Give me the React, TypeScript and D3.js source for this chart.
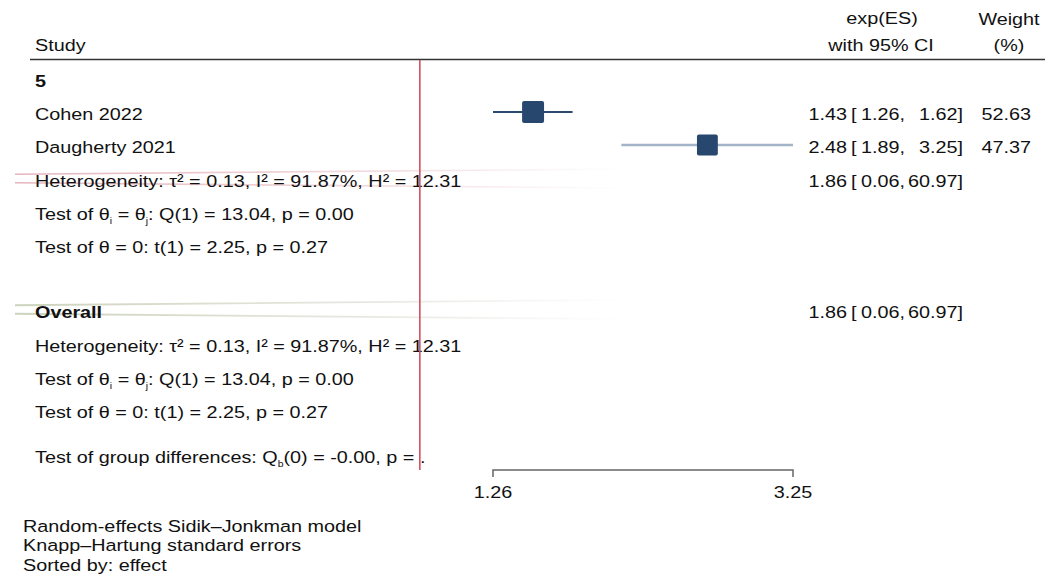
import React from "react";
import * as d3 from "d3";

const studies = ["Cohen 2022", "Daugherty 2021"];
const studyES = [1.43, 2.48];
const studyLo = [1.26, 1.89];
const studyHi = [1.62, 3.25];
const studyWeight = [52.63, 47.37];
const studyCI = [
  ["1.43", "1.26", "1.62"],
  ["2.48", "1.89", "3.25"],
];
const weightLabels = ["52.63", "47.37"];

const pooledES = [1.86, 1.86];
const pooledLo = [0.06, 0.06];
const pooledHi = [60.97, 60.97];
const pooledLabels = [
  ["1.86", "0.06", "60.97"],
  ["1.86", "0.06", "60.97"],
];

const axisTicks = [1.26, 3.25];
const axisTickLabels = ["1.26", "3.25"];
const nullValue = 1;

const groupLabel = "5";
const overallLabel = "Overall";
const footerLines = [
  "Random-effects Sidik\u2013Jonkman model",
  "Knapp\u2013Hartung standard errors",
  "Sorted by: effect",
];

const W = 1045;
const H = 577;
const SX = 1.165;
const FS = 17;
const FONT = "'Liberation Sans', Arial, Helvetica, sans-serif";
const TEXT = "#111";

const T = ({ x, y, anchor = "start", weight = "normal", size = FS, fill = TEXT, children }: any) => (
  <text
    transform={`translate(${x},${y}) scale(${SX},1)`}
    textAnchor={anchor}
    fontWeight={weight}
    fontSize={size}
    fill={fill}
  >
    {children}
  </text>
);

function StatsBlock({ y0 }: { y0: number }) {
  return (
    <g>
      <T x={35} y={y0}>Heterogeneity: τ² = 0.13, I² = 91.87%, H² = 12.31</T>
      <T x={35} y={y0 + 33}>
        Test of θ<tspan fontSize={9} dy={4}>i</tspan>
        <tspan dy={-4}> = θ</tspan>
        <tspan fontSize={9} dy={4}>j</tspan>
        <tspan dy={-4}>: Q(1) = 13.04, p = 0.00</tspan>
      </T>
      <T x={35} y={y0 + 66}>Test of θ = 0: t(1) = 2.25, p = 0.27</T>
    </g>
  );
}

export default function App() {
  const x = d3.scaleLog().domain([axisTicks[0], axisTicks[1]]).range([493, 793]);
  const studyBase = [120, 153];
  const pooledBase = [187, 318];
  const clipL = 15;
  const clipR = 622;

  const ciCols = (labels: string[], y: number) => (
    <g>
      <T x={847} y={y} anchor="end">{labels[0]}</T>
      <T x={851} y={y}>[</T>
      <T x={861} y={y}>{labels[1] + ","}</T>
      <T x={957.5} y={y} anchor="end">{labels[2]}</T>
      <T x={957.5} y={y}>]</T>
    </g>
  );

  const diamond = (i: number, cy: number) => {
    const xl = x(pooledLo[i]);
    const xr = x(pooledHi[i]);
    const xc = x(pooledES[i]);
    const h = 9.5;
    return `M${xl},${cy} L${xc},${cy - h} L${xr},${cy} L${xc},${cy + h} Z`;
  };

  return (
    <svg
      width={W}
      height={H}
      style={{ position: "absolute", left: 0, top: 0, background: "#fff" }}
      fontFamily={FONT}
    >
      <defs>
        <clipPath id="dclip">
          <rect x={clipL} y={0} width={clipR - clipL} height={H} />
        </clipPath>
        <linearGradient id="fadePink" gradientUnits="userSpaceOnUse" x1={clipL} x2={clipR} y1={0} y2={0}>
          <stop offset="0" stopColor="#dfa9b1" stopOpacity={0.85} />
          <stop offset="0.6" stopColor="#dfa9b1" stopOpacity={0.4} />
          <stop offset="1" stopColor="#dfa9b1" stopOpacity={0} />
        </linearGradient>
        <linearGradient id="fadeGreen" gradientUnits="userSpaceOnUse" x1={clipL} x2={clipR} y1={0} y2={0}>
          <stop offset="0" stopColor="#c9d1b8" stopOpacity={0.95} />
          <stop offset="0.6" stopColor="#cfd3c4" stopOpacity={0.5} />
          <stop offset="1" stopColor="#d8d8d0" stopOpacity={0} />
        </linearGradient>
      </defs>

      {/* header */}
      <T x={35} y={51}>Study</T>
      <T x={882} y={24} anchor="middle">exp(ES)</T>
      <T x={881} y={51} anchor="middle">with 95% CI</T>
      <T x={1009} y={25} anchor="middle">Weight</T>
      <T x={1009} y={51} anchor="middle">(%)</T>
      <line x1={30} x2={W} y1={59.5} y2={59.5} stroke="#333" strokeWidth={1.5} />

      {/* group label */}
      <T x={35} y={87} weight="bold">{groupLabel}</T>

      {/* faint pooled diamonds */}
      <g clipPath="url(#dclip)">
        <path d={diamond(0, pooledBase[0] - 8.5)} fill="none" stroke="url(#fadePink)" strokeWidth={1.6} />
        <path d={diamond(1, pooledBase[1] - 8.5)} fill="none" stroke="url(#fadeGreen)" strokeWidth={1.8} />
      </g>

      {/* studies */}
      {studies.map((s, i) => {
        const cy = studyBase[i] - 8;
        const side = 3.03 * Math.sqrt(studyWeight[i]);
        return (
          <g key={s}>
            <T x={35} y={studyBase[i]}>{s}</T>
            <line
              x1={x(studyLo[i])}
              x2={x(studyHi[i])}
              y1={cy}
              y2={cy}
              stroke={i === 0 ? "#2b4a70" : "#a3b3c8"}
              strokeWidth={i === 0 ? 2 : 2.5}
            />
            <rect
              x={x(studyES[i]) - side / 2}
              y={cy - side / 2}
              width={side}
              height={side}
              rx={2}
              fill="#27476e"
            />
            {ciCols(studyCI[i], studyBase[i])}
            <T x={1031} y={studyBase[i]} anchor="end">{weightLabels[i]}</T>
          </g>
        );
      })}

      {/* subgroup stats */}
      <StatsBlock y0={pooledBase[0]} />
      {ciCols(pooledLabels[0], pooledBase[0])}

      {/* overall */}
      <T x={35} y={pooledBase[1]} weight="bold">{overallLabel}</T>
      {ciCols(pooledLabels[1], pooledBase[1])}
      <StatsBlock y0={352} />

      <T x={35} y={463}>
        Test of group differences: Q<tspan fontSize={9} dy={4}>b</tspan>
        <tspan dy={-4}>(0) = -0.00, p = .</tspan>
      </T>

      {/* null line */}
      <line x1={x(nullValue)} x2={x(nullValue)} y1={60} y2={470} stroke="#d2505f" strokeWidth={1.6} />

      {/* axis */}
      <path
        d={`M${x(axisTicks[0])},477 V470 H${x(axisTicks[1])} V477`}
        fill="none"
        stroke="#666"
        strokeWidth={1.5}
      />
      {axisTicks.map((t, i) => (
        <T key={t} x={x(t)} y={498} anchor="middle">{axisTickLabels[i]}</T>
      ))}

      {/* footer */}
      {footerLines.map((l, i) => (
        <T key={l} x={23} y={532 + i * 19.3}>{l}</T>
      ))}
    </svg>
  );
}
